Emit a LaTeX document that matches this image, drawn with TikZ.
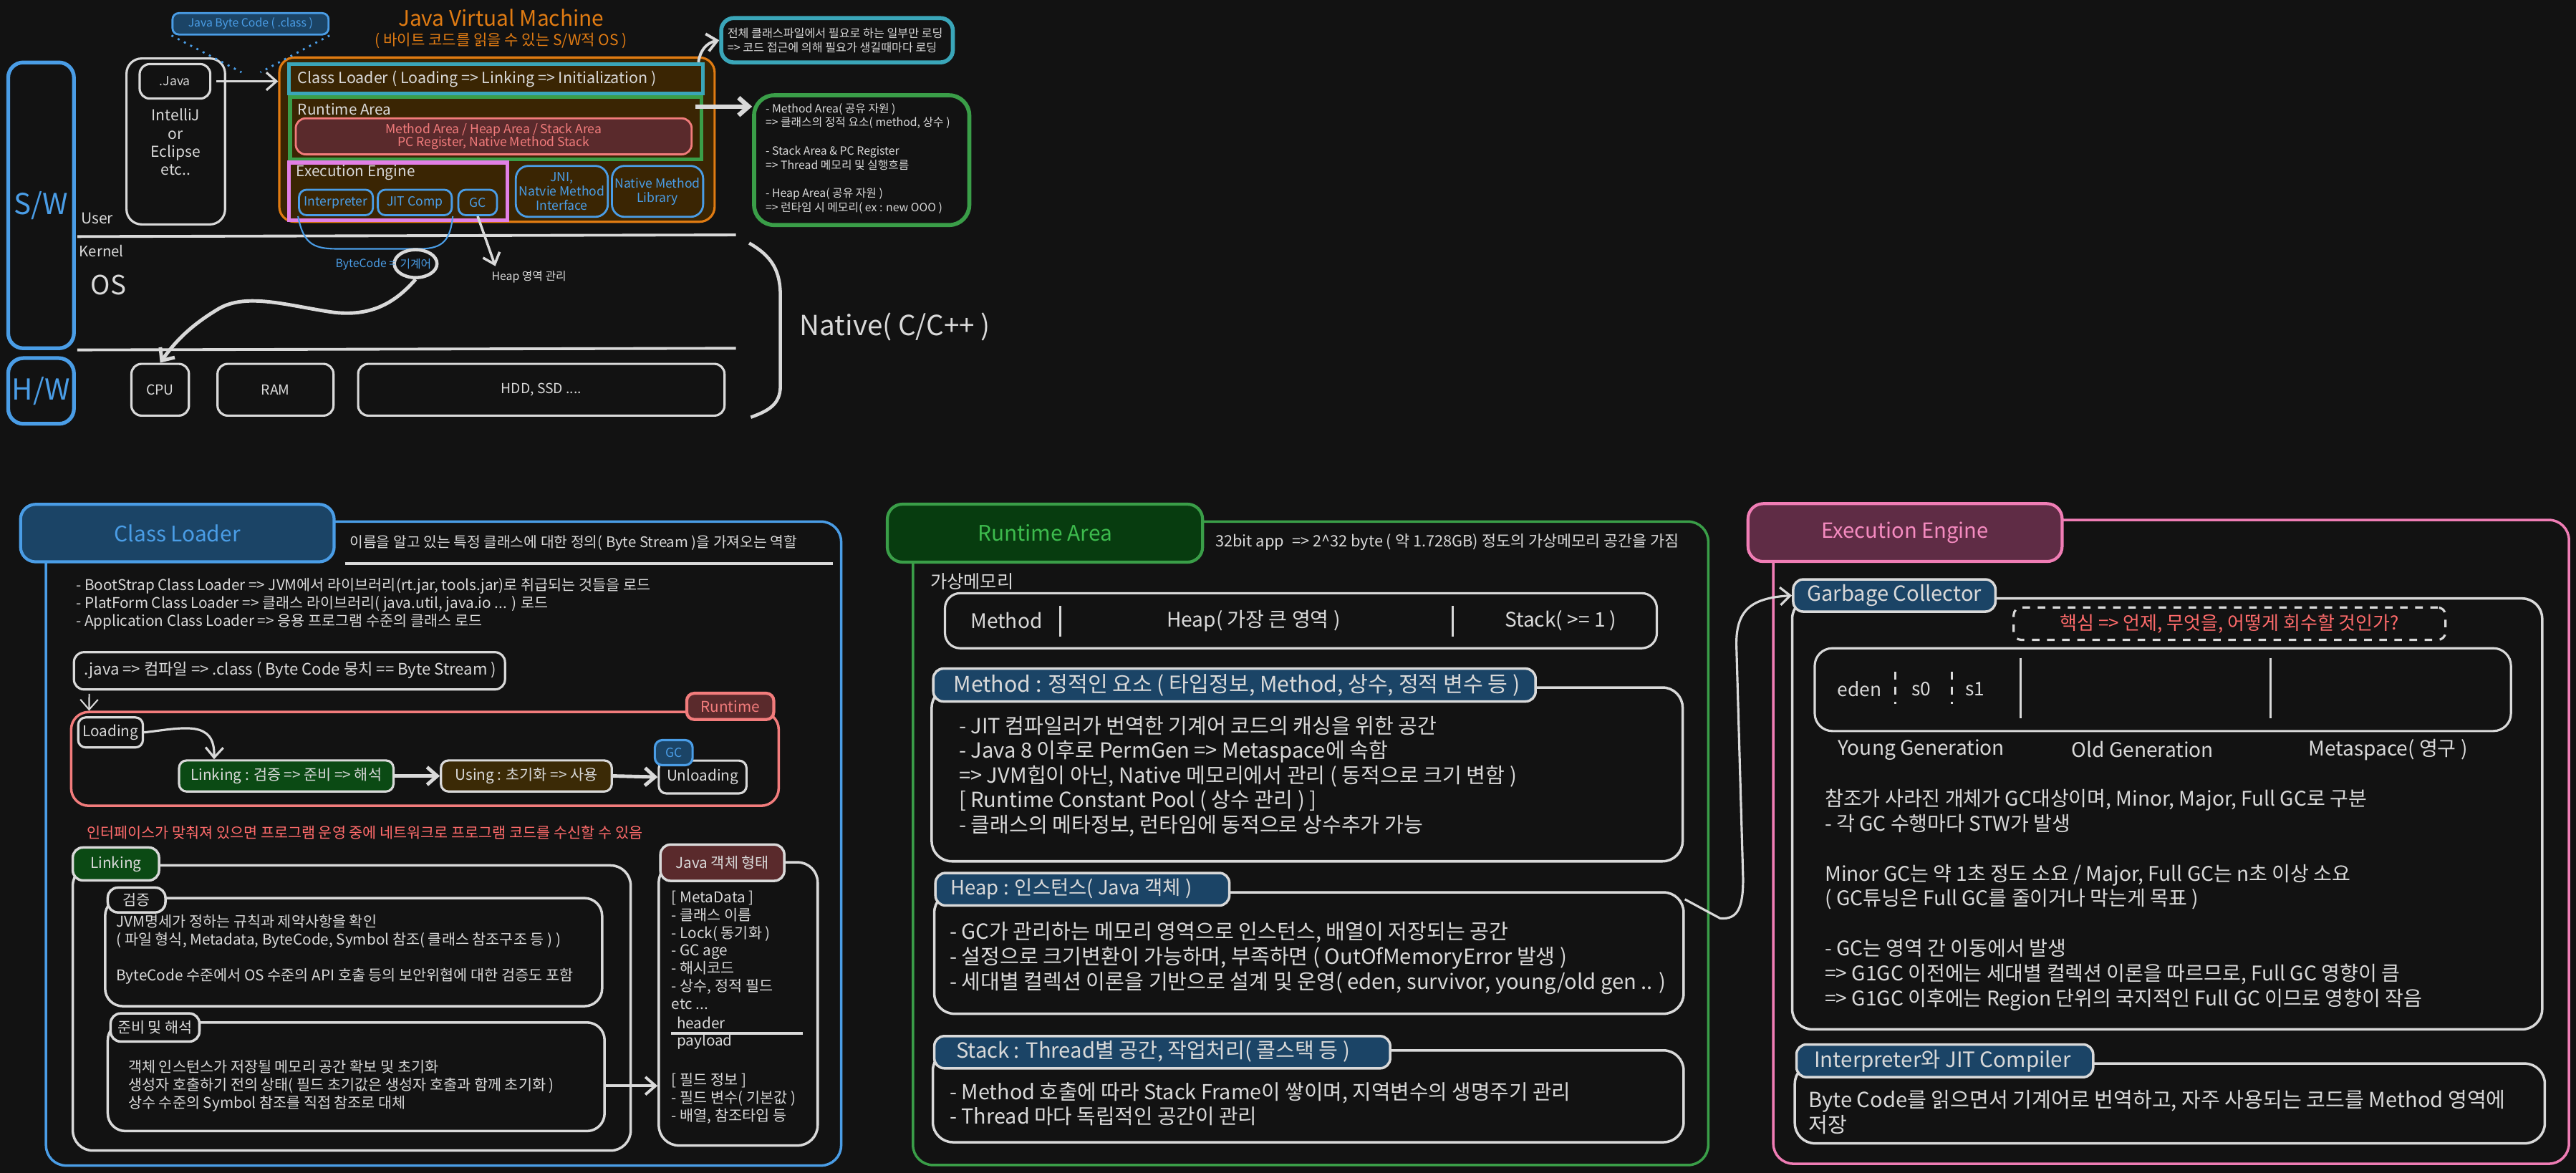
\documentclass[tikz,border=0pt]{standalone}
\usepackage{fontspec}
\setmainfont{Noto Sans CJK KR}
\usetikzlibrary{arrows.meta,calc,fit,shapes.geometric}

\definecolor{bg}{HTML}{121212}
\definecolor{ink}{HTML}{D9D9D9}
\definecolor{sky}{HTML}{4A9DE6}
\definecolor{skyfill}{HTML}{1B4466}
\definecolor{amber}{HTML}{E07B12}
\definecolor{amberfill}{HTML}{3A2503}
\definecolor{teal}{HTML}{3AA6B9}
\definecolor{leaf}{HTML}{3A9E48}
\definecolor{leaftext}{HTML}{3DBB4D}
\definecolor{leaffill}{HTML}{073C0F}
\definecolor{orchid}{HTML}{E27FE6}
\definecolor{salmon}{HTML}{F27C7C}
\definecolor{winefill}{HTML}{5A2A2C}
\definecolor{rose}{HTML}{F07DB5}
\definecolor{rosetext}{HTML}{F58BC0}
\definecolor{rosefill}{HTML}{5F2C45}
\definecolor{alert}{HTML}{FF6B6B}
\definecolor{mudfill}{HTML}{3B2A06}
\definecolor{linkfill}{HTML}{0B4A14}

\newcommand{\setfs}[2]{\fontsize{#1pt}{#2pt}\selectfont}

\begin{document}
\begin{tikzpicture}[x=0.2294mm,y=-0.2294mm,
  every node/.style={inner sep=0pt, text=ink},
  blk/.style={draw=ink, line width=0.9pt, rounded corners=3pt},
  panel/.style={draw=ink, line width=1pt, rounded corners=8pt},
  tagbox/.style={draw=ink, line width=1pt, rounded corners=4pt},
  skybtn/.style={draw=sky, line width=0.8pt, rounded corners=3pt},
  skytxt/.style={text=sky, font=\setfs{5}{5.66}, align=center},
  arr/.style={draw=ink, line width=0.9pt, -{Straight Barb[length=4pt,width=7pt]}},
  tiny/.style={font=\setfs{4.5}{5.5}},
  cltxt/.style={font=\setfs{5.9}{7.09}},
  left/.style={anchor=west, align=left}
]
\fill[bg] (0,0) rectangle (1568,714);
\useasboundingbox (0,0) rectangle (1568,714);

% ---------------- overview: S/W, JVM, OS, H/W ----------------
\node[fit={(5,38)(45,212)}, draw=sky, line width=1.5pt, rounded corners=6pt] (sw) {};
\node[text=sky, font=\setfs{11.5}{14}] (swlbl) at (sw.center) {S/W};
\node[fit={(5,218)(45,258)}, draw=sky, line width=1.5pt, rounded corners=6pt] (hw) {};
\node[text=sky, font=\setfs{11.5}{14}] (hwlbl) at (hw.center) {H/W};

\node[fit={(105,8)(200,21)}, draw=sky, fill=skyfill, line width=0.8pt, rounded corners=2.5pt] (bcode) {};
\node[text=sky, tiny] (bcodelbl) at (bcode.center) {Java Byte Code ( .class )};
\node[text=amber, font=\setfs{8.5}{10}] (jvmtitle) at (305,11) {Java Virtual Machine};
\node[text=amber, font=\setfs{6}{7}] (jvmsub) at (305,25) {( 바이트 코드를 읽을 수 있는 S/W적 OS )};

\node[fit={(170,35)(435,135)}, draw=amber, fill=amberfill, line width=0.9pt, rounded corners=6pt] (jvm) {};
\node[fit={(176,39)(428,57)}, draw=teal, line width=1.5pt] (clbox) {};
\node[anchor=west, font=\setfs{6.1}{7}] (cltext) at (181,48) {Class Loader ( Loading => Linking => Initialization )};
\node[fit={(176.5,59)(427,97)}, draw=leaf, line width=1.5pt] (rtbox) {};
\node[anchor=west, font=\setfs{5.9}{7}] (rttext) at (181,66.5) {Runtime Area};
\node[fit={(180,72)(421,94)}, draw=salmon, fill=winefill, line width=0.8pt, rounded corners=4pt] (rtareas) {};
\node[text=salmon, align=center, font=\setfs{5}{5.2}] (rtareaslbl) at (rtareas.center) {Method Area / Heap Area / Stack Area\\PC Register, Native Method Stack};
\node[fit={(176,99)(309,134)}, draw=orchid, line width=1.5pt] (eebox) {};
\node[anchor=west, font=\setfs{5.9}{7}] (eetext) at (180,105) {Execution Engine};
\node[fit={(182,115.5)(227,131)}, skybtn] (interp) {};
\node[skytxt] (interplbl) at (interp.center) {Interpreter};
\node[fit={(230,115.5)(275,131)}, skybtn] (jit) {};
\node[skytxt] (jitlbl) at (jit.center) {JIT Comp};
\node[fit={(279,115.5)(302.5,131)}, skybtn] (gcbox) {};
\node[skytxt] (gcboxlbl) at (gcbox.center) {GC};
\node[fit={(314,101)(370,132)}, skybtn, rounded corners=5pt] (jni) {};
\node[skytxt] (jnilbl) at (jni.center) {JNI,\\Natvie Method\\Interface};
\node[fit={(372.5,101)(428,132)}, skybtn, rounded corners=5pt] (nml) {};
\node[skytxt] (nmllbl) at (nml.center) {Native Method\\Library};

\node[fit={(77,35.6)(137,136.6)}, blk, rounded corners=6pt] (ide) {};
\node[fit={(85,39)(128,60)}, blk, rounded corners=4pt] (javafile) {};
\node[font=\setfs{5}{6}] (javafilelbl) at (javafile.center) {.Java};
\node[align=center, font=\setfs{6}{7.15}] (idename) at (107,86.5) {IntelliJ\\or\\Eclipse\\etc..};
\coordinate (javaout) at ($(javafile.east)+(3,0)$);
\draw[arr] (javaout) -- (javaout -| jvm.west);

\coordinate (dotL) at (147,44);
\coordinate (dotR) at (158.5,44);
\draw[sky, line width=0.8pt, dotted] (bcode.south west) -- (dotL);
\draw[sky, line width=0.8pt, dotted] (bcode.south east) -- (dotR);

\node[anchor=west, font=\setfs{6}{7}] (user) at (49,133) {User};
\draw[ink, line width=1.1pt] (47,144) -- (448,143);
\draw[ink, line width=1.1pt] (47,213) -- (448,212);
\node[anchor=west, font=\setfs{5.8}{7}] (kernel) at (48,152.6) {Kernel};
\node[anchor=west, font=\setfs{10.5}{12}] (os) at (55,173.5) {OS};

\draw[sky, line width=0.6pt] (interp.south west) .. controls (185,150) and (192,151.5) .. (207,151.5) -- (255,151.5) .. controls (270,151.5) and (274,146) .. (jit.south east);
\node[ellipse, draw=ink, line width=1.3pt, minimum width=5.96mm, minimum height=3.9mm] (mach) at (253,160.5) {};
\node[text=sky, tiny] (machlbl) at (mach.center) {기계어};
\node[anchor=east, text=sky, tiny] (bclabel) at (241,161) {ByteCode =};

\node[fit={(80,221.5)(115,253)}, blk, rounded corners=4pt] (cpu) {};
\node[font=\setfs{5.5}{6.5}] (cpulbl) at (cpu.center) {CPU};
\node[fit={(132.4,221.5)(203,253)}, blk, rounded corners=4pt] (ram) {};
\node[font=\setfs{5.5}{6.5}] (ramlbl) at (ram.center) {RAM};
\node[fit={(218,221.5)(441,253)}, blk, rounded corners=4pt] (hdd) {};
\node[font=\setfs{5.5}{6.5}] (hddlbl) at (hdd.center) {HDD, SSD ....};
\draw[arr, line width=1.4pt] (mach.south) .. controls (240,185) and (225,193) .. (202,190) .. controls (175,186) and (150,178) .. (133,188) .. controls (118,197) and (108,206) .. (cpu.north);

\coordinate (heaptip) at (301.5,162);
\draw[arr, line width=1pt] (gcbox.south) -- (heaptip);
\node[anchor=west, tiny] (heapnote) at (299,168.6) {Heap 영역 관리};

\draw[ink, line width=1.3pt] (456,148) .. controls (470,156) and (475,165) .. (475,180) -- (475,235) .. controls (475,246) and (468,250) .. (457,254);
\node[anchor=west, font=\setfs{11}{13}] (native) at (486.5,199) {Native( C/C++ )};

\node[fit={(439,11)(580,38)}, draw=teal, line width=1.6pt, rounded corners=5pt] (note1) {};
\node[left, font=\setfs{4.6}{5.63}] (note1text) at (442.5,24.6) {전체 클래스파일에서 필요로 하는 일부만 로딩\\=> 코드 접근에 의해 필요가 생길때마다 로딩};
\draw[arr, line width=1.1pt] ($(clbox.north east)+(-4,0)$) .. controls (426,31) and (430,26) .. (note1.west);

\node[fit={(459,58)(590,137)}, draw=leaf, line width=1.6pt, rounded corners=8pt] (note2) {};
\node[left, font=\setfs{4.5}{5.63}] (note2text) at (465.7,96.5) {- Method Area( 공유 자원 )\\=> 클래스의 정적 요소( method, 상수 )\\[5.63pt]- Stack Area \& PC Register\\=> Thread 메모리 및 실행흐름\\[5.63pt]- Heap Area( 공유 자원 )\\=> 런타임 시 메모리( ex : new OOO )};
\coordinate (rtout) at ($(rtbox.north east)+(-5,7)$);
\draw[arr, line width=1.8pt] (rtout) -- (rtout -| note2.west);

% ---------------- Class Loader ----------------
\node[fit={(28,317.5)(512,709.5)}, draw=sky, line width=1pt, rounded corners=8pt] (clpanel) {};
\node[fit={(12.5,307)(203.4,342)}, draw=sky, fill=skyfill, line width=1.2pt, rounded corners=6pt] (clhead) {};
\node[text=sky, font=\setfs{8.5}{10}] (clheadlbl) at (clhead.center) {Class Loader};
\node[anchor=west, font=\setfs{5.8}{7}] (cldesc) at (212.6,330.6) {이름을 알고 있는 특정 클래스에 대한 정의( Byte Stream )을 가져오는 역할};
\draw[ink, line width=1.2pt] (210,343) -- (507,343);
\node[left, cltxt] (clkinds) at (46,367.7) {- BootStrap Class Loader => JVM에서 라이브러리(rt.jar, tools.jar)로 취급되는 것들을 로드\\- PlatForm Class Loader => 클래스 라이브러리( java.util, java.io ... ) 로드\\- Application Class Loader => 응용 프로그램 수준의 클래스 로드};

\node[fit={(45,397)(307.4,419.7)}, blk, rounded corners=4pt] (javabox) {};
\node[anchor=west, font=\setfs{6.3}{7}] (javaflow) at (51,408) {.java => 컴파일 => .class ( Byte Code 뭉치 == Byte Stream )};

\node[fit={(43.3,433.4)(474,490.5)}, draw=salmon, line width=1pt, rounded corners=7pt] (rtloop) {};
\draw[arr, line width=0.6pt] ($(javabox.south west)+(10,2)$) -- ($(rtloop.north west)+(11.7,0)$);
\node[fit={(418,422)(471,438)}, draw=salmon, fill=winefill, line width=1.2pt, rounded corners=3pt] (rttag) {};
\node[text=salmon, cltxt] (rttaglbl) at (rttag.center) {Runtime};
\node[fit={(47.6,436.7)(87,455)}, blk] (loading) {};
\node[cltxt] (loadinglbl) at (loading.center) {Loading};
\node[fit={(109,462.9)(239.5,481.8)}, blk, fill=linkfill] (linking) {};
\node[cltxt] (linkinglbl) at (linking.center) {Linking : 검증 => 준비 => 해석};
\node[fit={(268.4,462.9)(372.4,481.8)}, blk, fill=mudfill] (using) {};
\node[cltxt] (usinglbl) at (using.center) {Using : 초기화 => 사용};
\node[fit={(401,463)(454.4,483)}, blk] (unloading) {};
\node[cltxt] (unloadinglbl) at (unloading.center) {Unloading};
\node[fit={(398.6,450.5)(421.6,465.8)}, draw=sky, fill=skyfill, line width=0.9pt, rounded corners=3pt] (gctag) {};
\node[text=sky, font=\setfs{5}{6}] (gctaglbl) at (gctag.center) {GC};
\draw[arr] (loading.east) .. controls (112,443) and (131,438) .. ($(linking.north west)+(22,0)$);
\draw[arr, line width=1.4pt] (linking.east) -- (using.west);
\draw[arr, line width=1.4pt] (using.east) -- (unloading.west);

\node[anchor=west, text=alert, cltxt] (netnote) at (52.5,507) {인터페이스가 맞춰져 있으면 프로그램 운영 중에 네트워크로 프로그램 코드를 수신할 수 있음};

\node[fit={(44.3,526.8)(383.9,700.4)}, panel] (lkpanel) {};
\node[fit={(44.3,515.9)(96.8,535.9)}, tagbox, fill=linkfill] (lkhead) {};
\node[cltxt] (lkheadlbl) at (lkhead.center) {Linking};
\node[fit={(64,546.7)(366.5,612.5)}, panel, rounded corners=7pt] (vfpanel) {};
\node[fit={(65.6,540.3)(100.7,555.4)}, tagbox, fill=bg] (vfhead) {};
\node[cltxt] (vfheadlbl) at (vfhead.center) {검증};
\node[left, cltxt] (vftext) at (70.5,578) {JVM명세가 정하는 규칙과 제약사항을 확인\\( 파일 형식, Metadata, ByteCode, Symbol 참조( 클래스 참조구조 등 ) )\\[7.09pt]ByteCode 수준에서 OS 수준의 API 호출 등의 보안위협에 대한 검증도 포함};
\node[fit={(65.6,622.4)(368,688.5)}, panel, rounded corners=7pt] (prpanel) {};
\node[fit={(67.3,616.9)(121.4,634)}, tagbox, fill=bg] (prhead) {};
\node[cltxt] (prheadlbl) at (prhead.center) {준비 및 해석};
\node[left, cltxt] (prtext) at (77.8,661) {객체 인스턴스가 저장될 메모리 공간 확보 및 초기화\\생성자 호출하기 전의 상태( 필드 초기값은 생성자 호출과 함께 초기화 )\\상수 수준의 Symbol 참조를 직접 참조로 대체};

\node[fit={(401,524.9)(497.7,697.3)}, panel] (objpanel) {};
\node[fit={(402,514.1)(477.4,536.2)}, tagbox, fill=winefill] (objhead) {};
\node[cltxt] (objheadlbl) at (objhead.center) {Java 객체 형태};
\node[left, cltxt] (objmeta) at (408.5,578.4) {[ MetaData ]\\- 클래스 이름\\- Lock( 동기화 )\\- GC age\\- 해시코드\\- 상수, 정적 필드\\etc ...};
\node[anchor=west, cltxt] (objheader) at (411.7,622.5) {header};
\draw[ink, line width=1.1pt] (408.5,629.2) -- (488.8,629.2);
\node[anchor=west, cltxt] (objpayload) at (411.7,634.3) {payload};
\node[left, cltxt] (objfields) at (408.5,668.5) {[ 필드 정보 ]\\- 필드 변수( 기본값 )\\- 배열, 참조타입 등};
\coordinate (prout) at ($(prpanel.east)+(0,5.5)$);
\draw[arr, line width=1.1pt] (prout) -- (prout -| objpanel.west);

% ---------------- Runtime Area ----------------
\node[fit={(555.7,317.5)(1039.8,709.2)}, draw=leaf, line width=1pt, rounded corners=8pt] (rapanel) {};
\node[fit={(540.1,306.9)(732,342.2)}, draw=leaf, fill=leaffill, line width=1.2pt, rounded corners=6pt] (rahead) {};
\node[text=leaftext, font=\setfs{8.5}{10}] (raheadlbl) at (rahead.center) {Runtime Area};
\node[anchor=west, font=\setfs{6.2}{7}] (radesc) at (739.5,329.9) {32bit app\enspace => 2\textasciicircum 32 byte ( 약 1.728GB) 정도의 가상메모리 공간을 가짐};
\node[anchor=west, font=\setfs{7.2}{8.5}] (vmem) at (566,353.9) {가상메모리};
\node[fit={(575.2,361.1)(1008.5,394.6)}, blk, rounded corners=6pt] (vmbox) {};
\draw[ink, line width=0.9pt] (645.5,369) -- (645.5,387.7);
\draw[ink, line width=0.9pt] (884.3,369) -- (884.3,387.7);
\node[font=\setfs{8}{9}] (vmmethod) at (612.6,377.8) {Method};
\node[font=\setfs{8}{9}] (vmheap) at (763,377.8) {Heap( 가장 큰 영역 )};
\node[font=\setfs{8}{9}] (vmstack) at (950,377.8) {Stack( >= 1 )};

\node[fit={(567.1,418.5)(1024.2,524.3)}, panel] (mtpanel) {};
\node[fit={(568.1,407)(934.7,427)}, tagbox, fill=skyfill] (mthead) {};
\node[anchor=west, font=\setfs{8.6}{10}] (mttitle) at (580.1,417) {Method : 정적인 요소 ( 타입정보, Method, 상수, 정적 변수 등 )};
\node[left, font=\setfs{8.3}{9.82}] (mttext) at (583.4,472.6) {- JIT 컴파일러가 번역한 기계어 코드의 캐싱을 위한 공간\\- Java 8 이후로 PermGen => Metaspace에 속함\\=> JVM힙이 아닌, Native 메모리에서 관리 ( 동적으로 크기 변함 )\\{[} Runtime Constant Pool ( 상수 관리 ) ]\\- 클래스의 메타정보, 런타임에 동적으로 상수추가 가능};

\node[fit={(568.7,543.2)(1024.8,617.1)}, panel] (hppanel) {};
\node[fit={(569.4,531.4)(748.3,551.2)}, tagbox, fill=skyfill] (hphead) {};
\node[anchor=west, font=\setfs{7.8}{10}] (hptitle) at (578.5,541.3) {Heap : 인스턴스( Java 객체 )};
\node[left, font=\setfs{8.3}{10}] (hptext) at (577.8,583.3) {- GC가 관리하는 메모리 영역으로 인스턴스, 배열이 저장되는 공간\\- 설정으로 크기변환이 가능하며, 부족하면 ( OutOfMemoryError 발생 )\\- 세대별 컬렉션 이론을 기반으로 설계 및 운영( eden, survivor, young/old gen .. )};

\node[fit={(567.8,639.4)(1024.8,695.3)}, panel] (stpanel) {};
\node[fit={(568.7,630.7)(846.2,650.3)}, tagbox, fill=skyfill] (sthead) {};
\node[anchor=west, font=\setfs{8.3}{10}] (sttitle) at (581.7,640.1) {Stack : Thread별 공간, 작업처리( 콜스택 등 )};
\node[left, font=\setfs{8.2}{9.5}] (sttext) at (577.8,672.1) {- Method 호출에 따라 Stack Frame이 쌓이며, 지역변수의 생명주기 관리\\- Thread 마다 독립적인 공간이 관리};

% ---------------- Execution Engine ----------------
\node[fit={(1079.4,316.5)(1563.7,708.4)}, draw=rose, line width=1pt, rounded corners=8pt] (eepanel) {};
\node[fit={(1064,306.6)(1255.2,341.8)}, draw=rose, fill=rosefill, line width=1.2pt, rounded corners=6pt] (eehead) {};
\node[text=rosetext, font=\setfs{8.3}{10}] (eeheadlbl) at (eehead.center) {Execution Engine};

\node[fit={(1090.9,364.3)(1547.4,626.6)}, panel] (gcpanel) {};
\node[fit={(1091.5,352.7)(1214.6,372.3)}, tagbox, fill=skyfill] (gchead) {};
\node[font=\setfs{8.3}{10}] (gcheadlbl) at (gchead.center) {Garbage Collector};
\node[fit={(1225.7,369.8)(1488.5,389.5)}, draw=ink, line width=0.9pt, dashed, rounded corners=3pt] (gckey) {};
\node[text=alert, font=\setfs{7.4}{9}] (gckeylbl) at (gckey.center) {핵심 => 언제, 무엇을, 어떻게 회수할 것인가?};
\node[fit={(1104.6,394.6)(1528.4,445)}, blk, rounded corners=7pt] (genbox) {};
\draw[ink, line width=0.9pt] (1230,400.4) -- (1230,437.4);
\draw[ink, line width=0.9pt] (1382.1,400.4) -- (1382.1,437.4);
\draw[ink, line width=0.7pt, dashed] (1153.7,409) -- (1153.7,428.7);
\draw[ink, line width=0.7pt, dashed] (1188.1,409) -- (1188.1,428.7);
\node[font=\setfs{7.5}{9}] (eden) at (1131.8,419.3) {eden};
\node[font=\setfs{7.5}{9}] (szero) at (1169.4,419.3) {s0};
\node[font=\setfs{7.5}{9}] (sone) at (1202.2,419.3) {s1};
\node[font=\setfs{8}{9}] (younggen) at (1169.4,456.3) {Young Generation};
\node[font=\setfs{8}{9}] (oldgen) at (1304.2,456.3) {Old Generation};
\node[font=\setfs{8}{9}] (metagen) at (1453.5,456.3) {Metaspace( 영구 )};
\node[left, font=\setfs{8}{9.92}] (gctext) at (1110.5,547.85) {참조가 사라진 개체가 GC대상이며, Minor, Major, Full GC로 구분\\- 각 GC 수행마다 STW가 발생\\[9.92pt]Minor GC는 약 1초 정도 소요 / Major, Full GC는 n초 이상 소요\\( GC튜닝은 Full GC를 줄이거나 막는게 목표 )\\[9.92pt]- GC는 영역 간 이동에서 발생\\=> G1GC 이전에는 세대별 컬렉션 이론을 따르므로, Full GC 영향이 큼\\=> G1GC 이후에는 Region 단위의 국지적인 Full GC 이므로 영향이 작음};

\node[fit={(1092.5,647.4)(1549,696)}, panel] (jitpanel) {};
\node[fit={(1093.5,635.8)(1274.1,655.7)}, tagbox, fill=skyfill] (jithead) {};
\node[anchor=west, font=\setfs{8.4}{10}] (jittitle) at (1104,645.9) {Interpreter와 JIT Compiler};
\node[left, font=\setfs{8.3}{10.08}] (jittext) at (1100.7,677) {Byte Code를 읽으면서 기계어로 번역하고, 자주 사용되는 코드를 Method 영역에\\저장};

% the heap area is what the garbage collector manages
\draw[arr, line width=0.9pt] ($(hppanel.north east)+(0,5)$) -- (1047,559) .. controls (1058,560) and (1061,552) .. (1061,535) -- (1057,395) .. controls (1056,372) and (1065,364) .. (gchead.west);

\end{tikzpicture}
\end{document}
